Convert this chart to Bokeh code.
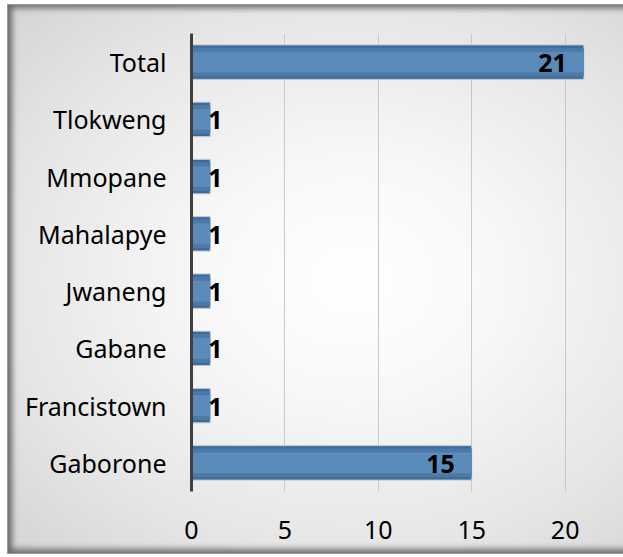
from bokeh.plotting import figure
from bokeh.models import FactorRange, Range1d, SingleIntervalTicker, ColumnDataSource
from bokeh.core.properties import value
from bokeh.embed import file_html
from bokeh.resources import INLINE

categories = ["Gaborone", "Francistown", "Gabane", "Jwaneng", "Mahalapye", "Mmopane", "Tlokweng", "Total"]
counts = [15, 1, 1, 1, 1, 1, 1, 21]
x_ticks_interval = 5

FONT = "Noto Sans"

p = figure(
    y_range=FactorRange(factors=categories, range_padding=0),
    x_range=Range1d(0, 22),
    width=626, height=550,
    output_backend="svg", toolbar_location=None,
    min_border_left=183, min_border_right=32, min_border_top=28, min_border_bottom=64,
)
p.styles = {
    "margin-top": "4px",
    "margin-left": "7px",
    "background": "radial-gradient(ellipse at 55% 50%, #ffffff 0%, #f8f8f8 30%, #e6e6e6 70%, #d4d4d4 100%)",
    "box-shadow": "inset 5px 4px 6px -1px #6a6a6a, inset 0px -6px 6px -2px #707070",
    "border": "1px solid #9a9a9a",
}
p.border_fill_color = None
p.background_fill_color = None
p.outline_line_color = None

src = ColumnDataSource(dict(cat=categories, val=counts))

# bars with a simple bevel look
p.hbar(y="cat", right="val", left=0, height=0.6, source=src,
       fill_color="#3f6a96", line_color="#b9c6d3", line_width=1)
p.hbar(y="cat", right="val", left=0, height=0.5, source=src,
       fill_color="#4c7aa8", line_color=None)
p.hbar(y="cat", right="val", left=0, height=0.36, source=src,
       fill_color="#5b8bb9", line_color=None)

big = ColumnDataSource(dict(cat=[c for c, v in zip(categories, counts) if v >= 5],
                            val=[v for v in counts if v >= 5],
                            txt=[str(v) for v in counts if v >= 5]))
small = ColumnDataSource(dict(cat=[c for c, v in zip(categories, counts) if v < 5],
                              val=[v for v in counts if v < 5],
                              txt=[str(v) for v in counts if v < 5]))
p.text(x="val", y="cat", text="txt", source=big, text_align="right", text_baseline="middle",
       x_offset=-17, y_offset=1, text_font=value(FONT), text_font_style="bold",
       text_font_size="25px", text_color="#000000")
p.text(x="val", y="cat", text="txt", source=small, text_align="left", text_baseline="middle",
       x_offset=-2, y_offset=1, text_font=value(FONT), text_font_style="bold",
       text_font_size="25px", text_color="#000000")

p.xaxis.ticker = SingleIntervalTicker(interval=x_ticks_interval)
p.xaxis.axis_line_color = None
p.xaxis.major_tick_line_color = None
p.xaxis.minor_tick_line_color = None
p.xaxis.major_label_standoff = 23
p.xaxis.major_label_text_font = FONT
p.xaxis.major_label_text_font_size = "25px"
p.xaxis.major_label_text_color = "#000000"

p.yaxis.axis_line_color = "#404040"
p.yaxis.axis_line_width = 3
p.yaxis.major_tick_line_color = None
p.yaxis.minor_tick_line_color = None
p.yaxis.major_label_standoff = 19
p.yaxis.major_label_text_font = FONT
p.yaxis.major_label_text_font_size = "25px"
p.yaxis.major_label_text_color = "#000000"

p.xgrid.grid_line_color = "#c8c8c8"
p.xgrid.grid_line_width = 1
p.ygrid.grid_line_color = None

open("out.html", "w").write(file_html(p, INLINE))
